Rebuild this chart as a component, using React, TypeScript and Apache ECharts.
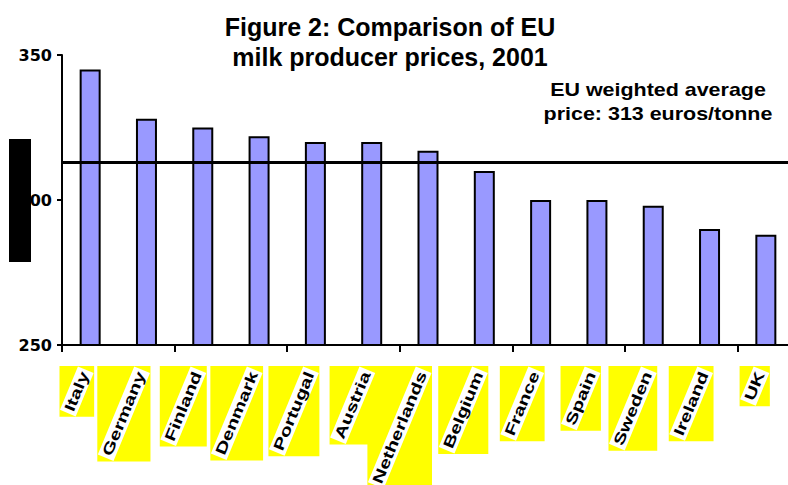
import React, { useEffect, useRef } from "react";
import * as echarts from "echarts";

const categories = [
  "Italy", "Germany", "Finland", "Denmark", "Portugal", "Austria", "Netherlands",
  "Belgium", "France", "Spain", "Sweden", "Ireland", "UK",
];
const prices = [345, 328, 325, 322, 320, 320, 317, 310, 300, 300, 298, 290, 288];
const euAverage = 313;
const yMin = 250;
const yMax = 350;
const yStep = 50;
const titleLines = ["Figure 2: Comparison of EU", "milk producer prices, 2001"];
const noteLines = ["EU weighted average", "price: 313 euros/tonne"];

const FAMILY = "'Liberation Sans', Arial, Helvetica, sans-serif";
const LABEL_SIZE = 15;
const LABEL_FONT = `bold ${LABEL_SIZE}px ${FAMILY}`;
const LABEL_SCALE = 1.38;
const LABEL_ANGLE = (67.5 * Math.PI) / 180;
const PAD_X = 2;
const PAD_Y = 0.5;
const LINE_H = 16;
const BOX_MARGIN = 0.5;
const TOP_GAP = 21;
const RIGHT_GAP = 4;

let measureCtx: CanvasRenderingContext2D | null = null;
function measure(text: string, font: string): number {
  if (!measureCtx) measureCtx = document.createElement("canvas").getContext("2d");
  if (!measureCtx) return text.length * 9;
  measureCtx.font = font;
  return measureCtx.measureText(text).width;
}

function labelGeometry(name: string, p: number[]) {
  const w = measure(name, LABEL_FONT);
  const Lb = (w + 2 * PAD_X) * LABEL_SCALE;
  const T = LINE_H + 2 * PAD_Y;
  const c = Math.cos(LABEL_ANGLE);
  const s = Math.sin(LABEL_ANGLE);
  const ex = p[0] + RIGHT_GAP - BOX_MARGIN - (T / 2) * s;
  const ey = p[1] + TOP_GAP + BOX_MARGIN + (T / 2) * c;
  const minX = ex - Lb * c - (T / 2) * s - BOX_MARGIN;
  const maxX = ex + (T / 2) * s + BOX_MARGIN;
  const minY = ey - (T / 2) * c - BOX_MARGIN;
  const maxY = ey + Lb * s + (T / 2) * c + BOX_MARGIN;
  return { ex, ey, minX, maxX, minY, maxY };
}

export default function App() {
  const ref = useRef<HTMLDivElement>(null);

  useEffect(() => {
    if (!ref.current) return;
    const chart = echarts.init(ref.current, null, { renderer: "svg" });

    const renderBox = (params: any, api: any) => {
      const i = api.value(0);
      const p = api.coord([i, api.value(1)]);
      const g = labelGeometry(categories[i], p);
      return {
        type: "rect",
        shape: { x: g.minX, y: g.minY, width: g.maxX - g.minX, height: g.maxY - g.minY },
        style: { fill: "#ffff00" },
      };
    };

    const renderText = (params: any, api: any) => {
      const i = api.value(0);
      const p = api.coord([i, api.value(1)]);
      const g = labelGeometry(categories[i], p);
      return {
        type: "text",
        x: g.ex,
        y: g.ey,
        rotation: LABEL_ANGLE,
        scaleX: LABEL_SCALE,
        style: {
          text: categories[i],
          font: LABEL_FONT,
          fill: "#000",
          align: "right",
          verticalAlign: "middle",
          lineHeight: LINE_H,
          backgroundColor: "#ffffff",
          padding: [PAD_Y, PAD_X],
        },
      };
    };

    const labelData = categories.map((_, i) => [i, yMin]);

    chart.setOption({
      animation: false,
      grid: {
        left: 62,
        width: 732,
        top: 55,
        bottom: 140,
        containLabel: false,
        outerBoundsMode: "none",
      },
      xAxis: {
        type: "category",
        data: categories,
        boundaryGap: true,
        axisLine: { show: true, lineStyle: { color: "#000", width: 2 } },
        axisTick: { show: true, length: 7, lineStyle: { color: "#000", width: 2 } },
        axisLabel: { show: false },
        splitLine: { show: false },
      },
      yAxis: {
        type: "value",
        min: yMin,
        max: yMax,
        interval: yStep,
        axisLine: { show: true, lineStyle: { color: "#000", width: 2 } },
        axisTick: { show: true, length: 5, lineStyle: { color: "#000", width: 2 } },
        axisLabel: {
          color: "#000",
          fontWeight: "bold",
          fontSize: 16,
          fontFamily: "'DejaVu Sans', sans-serif",
          margin: 10,
        },
        splitLine: { show: false },
      },
      series: [
        {
          type: "bar",
          data: prices,
          barWidth: 21,
          itemStyle: { color: "#9999ff", borderColor: "#000", borderWidth: 2 },
          markLine: {
            silent: true,
            symbol: ["none", "none"],
            label: { show: false },
            lineStyle: { color: "#000", width: 3, type: "solid" },
            data: [{ yAxis: euAverage }],
          },
        },
        {
          type: "custom",
          data: labelData,
          encode: { x: 0, y: 1 },
          clip: false,
          silent: true,
          z: 5,
          renderItem: renderBox,
        },
        {
          type: "custom",
          data: labelData,
          encode: { x: 0, y: 1 },
          clip: false,
          silent: true,
          z: 6,
          renderItem: renderText,
        },
      ],
      graphic: [
        {
          type: "text",
          x: 390,
          y: 27,
          style: {
            text: titleLines[0],
            font: `bold 25px ${FAMILY}`,
            fill: "#000",
            align: "center",
            verticalAlign: "middle",
          },
        },
        {
          type: "text",
          x: 390,
          y: 56.5,
          style: {
            text: titleLines[1],
            font: `bold 25px ${FAMILY}`,
            fill: "#000",
            align: "center",
            verticalAlign: "middle",
          },
        },
        {
          type: "text",
          x: 658,
          y: 90,
          scaleX: 1.16,
          style: {
            text: noteLines[0],
            font: `bold 18.5px ${FAMILY}`,
            fill: "#000",
            align: "center",
            verticalAlign: "middle",
          },
        },
        {
          type: "text",
          x: 658,
          y: 114,
          scaleX: 1.16,
          style: {
            text: noteLines[1],
            font: `bold 18.5px ${FAMILY}`,
            fill: "#000",
            align: "center",
            verticalAlign: "middle",
          },
        },
        {
          type: "rect",
          z: 100,
          shape: { x: 9, y: 139, width: 22, height: 123 },
          style: { fill: "#000" },
        },
      ],
    });

    return () => chart.dispose();
  }, []);

  return (
    <div
      ref={ref}
      style={{ position: "fixed", left: 0, top: 0, width: 800, height: 485, background: "#fff" }}
    />
  );
}
